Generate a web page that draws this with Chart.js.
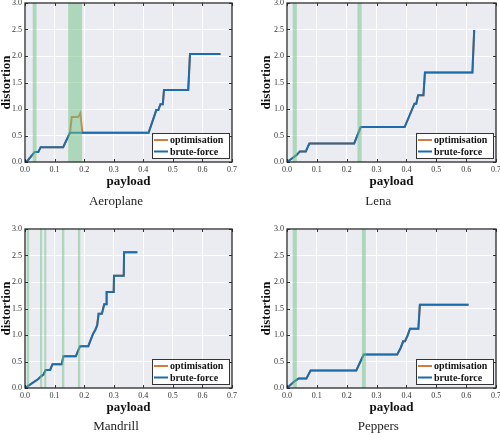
<!DOCTYPE html>
<html>
<head>
<meta charset="utf-8">
<script src="https://cdn.jsdelivr.net/npm/chart.js@4.4.1/dist/chart.umd.min.js"></script>
<style>
  body { margin: 0; background: #fff; }
  #wrap { position: relative; width: 500px; height: 433px; }
  canvas { position: absolute; }
</style>
</head>
<body>
<div id="wrap">
  <canvas id="aero" width="250" height="216" style="left:0;top:0"></canvas>
  <canvas id="lena" width="250" height="216" style="left:250px;top:0"></canvas>
  <canvas id="mand" width="250" height="217" style="left:0;top:216px"></canvas>
  <canvas id="pep" width="250" height="217" style="left:250px;top:216px"></canvas>
</div>
<script>
// Aeroplane
var aeroX      = [0, 0.008, 0.033, 0.045, 0.053, 0.129, 0.152, 0.418, 0.444, 0.451, 0.458, 0.466, 0.470, 0.552, 0.558, 0.661];
var aeroBrute  = [0, 0.02, 0.19, 0.19, 0.28, 0.28, 0.55, 0.55, 0.98, 0.98, 1.09, 1.09, 1.36, 1.36, 2.04, 2.04];
var aeroOptX   = [0, 0.008, 0.033, 0.045, 0.053, 0.129, 0.152, 0.158, 0.178, 0.182, 0.187, 0.189, 0.194, 0.418, 0.444, 0.451, 0.458, 0.466, 0.470, 0.552, 0.558, 0.661];
var aeroOpt    = [0, 0.02, 0.19, 0.19, 0.28, 0.28, 0.55, 0.85, 0.85, 0.87, 0.92, 0.92, 0.55, 0.55, 0.98, 0.98, 1.09, 1.09, 1.36, 1.36, 2.04, 2.04];
var aeroBands  = [[0.026, 0.039], [0.146, 0.193]];

// Lena
var lenaX      = [0, 0.02, 0.032, 0.043, 0.063, 0.075, 0.225, 0.247, 0.394, 0.427, 0.433, 0.439, 0.457, 0.462, 0.621, 0.627];
var lenaBrute  = [0, 0.08, 0.13, 0.2, 0.2, 0.35, 0.35, 0.66, 0.66, 1.1, 1.1, 1.26, 1.26, 1.69, 1.69, 2.49];
var lenaBands  = [[0.019, 0.033], [0.236, 0.250]];

// Mandrill
var mandX      = [0, 0.045, 0.056, 0.062, 0.070, 0.085, 0.093, 0.124, 0.130, 0.172, 0.186, 0.214, 0.230, 0.238, 0.244, 0.249, 0.260, 0.268, 0.274, 0.276, 0.300, 0.301, 0.334, 0.335, 0.380];
var mandBrute  = [0, 0.17, 0.23, 0.25, 0.34, 0.34, 0.45, 0.45, 0.60, 0.60, 0.79, 0.79, 1.02, 1.10, 1.18, 1.40, 1.40, 1.58, 1.58, 1.81, 1.81, 2.12, 2.12, 2.56, 2.56];
var mandBands  = [[0.006, 0.014], [0.051, 0.058], [0.065, 0.072], [0.125, 0.133], [0.179, 0.187]];

// Peppers
var pepX       = [0, 0.026, 0.039, 0.065, 0.079, 0.232, 0.257, 0.369, 0.381, 0.389, 0.395, 0.403, 0.412, 0.440, 0.445, 0.608];
var pepBrute   = [0, 0.13, 0.18, 0.18, 0.33, 0.33, 0.63, 0.63, 0.76, 0.88, 0.88, 0.98, 1.12, 1.12, 1.57, 1.57];
var pepBands   = [[0.019, 0.033], [0.251, 0.264]];

var seriesNames = ['optimisation', 'brute-force'];

var SERIF = "'Liberation Serif', 'Times New Roman', serif";
var BLUE = '#1b6cad';
var ORANGE = '#d47a3e';

function pts(xs, ys) {
    return xs.map(function(x, i) { return {x: x, y: ys[i]}; });
}

// background, bands, frame, inward ticks and the legend box
var framePlugin = {
    id: 'frame',
    beforeDraw: function(chart) {
        var a = chart.chartArea, c = chart.ctx;
        c.save();
        c.fillStyle = '#ebebf2';
        c.fillRect(a.left, a.top, a.right - a.left, a.bottom - a.top);
        c.restore();
    },
    afterDatasetsDraw: function(chart, args, opts) {
        var a = chart.chartArea, c = chart.ctx;
        var xs = chart.scales.x, ys = chart.scales.y;
        c.save();
        // translucent bands over the lines
        c.fillStyle = 'rgba(110, 195, 130, 0.5)';
        (opts.bands || []).forEach(function(b) {
            var x0 = xs.getPixelForValue(b[0]), x1 = xs.getPixelForValue(b[1]);
            c.fillRect(x0, a.top, x1 - x0, a.bottom - a.top);
        });

        c.strokeStyle = '#333';
        c.lineWidth = 1;
        xs.ticks.forEach(function(t) {
            var p = Math.round(xs.getPixelForValue(t.value)) + 0.5;
            c.beginPath();
            c.moveTo(p, a.bottom); c.lineTo(p, a.bottom - 3);
            c.moveTo(p, a.top); c.lineTo(p, a.top + 3);
            c.stroke();
        });
        ys.ticks.forEach(function(t) {
            var p = Math.round(ys.getPixelForValue(t.value)) + 0.5;
            c.beginPath();
            c.moveTo(a.left, p); c.lineTo(a.left + 3, p);
            c.moveTo(a.right, p); c.lineTo(a.right - 3, p);
            c.stroke();
        });
        c.strokeStyle = '#2a2a2a';
        c.lineWidth = 1.3;
        c.strokeRect(a.left, a.top, a.right - a.left, a.bottom - a.top);

        // legend
        var w = 77, h = 25;
        var bx = a.right - 3 - w, by = a.bottom - 4 - h;
        c.fillStyle = '#fff';
        c.fillRect(bx, by, w, h);
        c.strokeStyle = '#333';
        c.lineWidth = 1;
        c.strokeRect(bx + 0.5, by + 0.5, w, h);
        c.font = 'bold 10px ' + SERIF;
        c.textBaseline = 'middle';
        c.fillStyle = '#111';
        chart.data.datasets.forEach(function(ds, i) {
            var y = by + 7 + i * 11.5;
            c.strokeStyle = ds.borderColor;
            c.lineWidth = 2;
            c.beginPath();
            c.moveTo(bx + 2, y); c.lineTo(bx + 16, y);
            c.stroke();
            c.fillText(ds.label, bx + 18, y + 0.5);
        });
        c.restore();
    }
};

function makeChart(id, title, optPts, brutePts, bands, box) {
    var W = box.w, H = box.h;
    var xH = H - box.padB - 13 - box.bottom;
    return new Chart(document.getElementById(id), {
        type: 'scatter',
        data: {
            datasets: [{
                label: seriesNames[0],
                data: optPts,
                showLine: true,
                borderColor: ORANGE,
                borderWidth: 2,
                pointRadius: 0,
                order: 2
            }, {
                label: seriesNames[1],
                data: brutePts,
                showLine: true,
                borderColor: BLUE,
                borderWidth: 2,
                pointRadius: 0,
                order: 1
            }]
        },
        options: {
            responsive: false,
            animation: false,
            layout: { padding: { left: box.padL, right: W - box.right, top: box.top, bottom: box.padB } },
            plugins: {
                legend: { display: false },
                tooltip: { enabled: false },
                title: {
                    display: true, text: title, position: 'bottom', padding: 0, color: '#222',
                    font: { family: SERIF, size: 13, weight: 'normal', lineHeight: 1 }
                },
                frame: { bands: bands }
            },
            scales: {
                x: {
                    type: 'linear', min: 0, max: 0.7,
                    ticks: { stepSize: 0.1, padding: 3, color: '#333', maxRotation: 0,
                        font: { family: SERIF, size: 8 },
                        callback: function(v) { return v.toFixed(1); } },
                    grid: { color: '#ffffff', lineWidth: 1, drawTicks: false },
                    border: { display: false },
                    title: { display: true, text: 'payload', color: '#111',
                        padding: { top: 0, bottom: box.xTitlePad },
                        font: { family: SERIF, size: 13, weight: 'bold', lineHeight: 1 } },
                    afterFit: function(s) { s.height = xH; s.paddingLeft = 0; s.paddingRight = 0; }
                },
                y: {
                    type: 'linear', min: 0, max: 3,
                    ticks: { stepSize: 0.5, padding: 3, color: '#333',
                        font: { family: SERIF, size: 8 },
                        callback: function(v) { return v.toFixed(1); } },
                    grid: { color: '#ffffff', lineWidth: 1, drawTicks: false },
                    border: { display: false },
                    title: { display: true, text: 'distortion', color: '#111', padding: 0,
                        font: { family: SERIF, size: 13, weight: 'bold', lineHeight: 1 } },
                    afterFit: function(s) { s.width = box.left - box.padL; s.paddingTop = 0; s.paddingBottom = 0; }
                }
            }
        },
        plugins: [framePlugin]
    });
}

var topBox = { w: 250, h: 216, top: 3, bottom: 162, padB: 7.5, xTitlePad: 7 };
var botBox = { w: 250, h: 217, top: 13, bottom: 172, padB: 0, xTitlePad: 5.5 };

makeChart('aero', 'Aeroplane', pts(aeroOptX, aeroOpt), pts(aeroX, aeroBrute), aeroBands,
    Object.assign({}, topBox, { left: 25, right: 232, padL: 0 }));
makeChart('lena', 'Lena', pts(lenaX, lenaBrute), pts(lenaX, lenaBrute), lenaBands,
    Object.assign({}, topBox, { left: 37, right: 246, padL: 10.5 }));
makeChart('mand', 'Mandrill', pts(mandX, mandBrute), pts(mandX, mandBrute), mandBands,
    Object.assign({}, botBox, { left: 25, right: 232, padL: 0 }));
makeChart('pep', 'Peppers', pts(pepX, pepBrute), pts(pepX, pepBrute), pepBands,
    Object.assign({}, botBox, { left: 37, right: 246, padL: 10.5 }));
</script>
</body>
</html>
